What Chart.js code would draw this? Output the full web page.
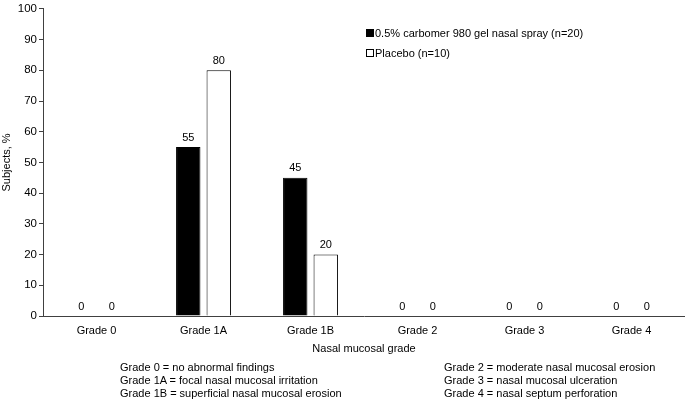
<!DOCTYPE html>
<html>
<head>
<meta charset="utf-8">
<script src="https://cdn.jsdelivr.net/npm/chart.js@4.4.0/dist/chart.umd.min.js"></script>
<style>
  html, body { margin: 0; padding: 0; background: #fff; }
  #wrap { position: relative; width: 685px; height: 402px; font-family: "Liberation Sans", Arial, sans-serif; font-size: 11px; color: #000; }
  #c { position: absolute; left: 0; top: 0; }
  .t { position: absolute; white-space: nowrap; line-height: 13px; }
  .sq { display: inline-block; width: 6px; height: 6px; border: 1px solid #000; margin-right: 1px; vertical-align: 0px; }
</style>
</head>
<body>
<div id="wrap">
  <canvas id="c" width="685" height="402"></canvas>
  <div class="t" style="left:264px; top:342px; width:200px; text-align:center;">Nasal mucosal grade</div>
  <div id="legend"></div>
  <div id="notes"></div>
</div>
<script>
const categories = ["Grade 0", "Grade 1A", "Grade 1B", "Grade 2", "Grade 3", "Grade 4"];
const seriesNames = ["0.5% carbomer 980 gel nasal spray (n=20)", "Placebo (n=10)"];
const carbomerValues = [0, 55, 45, 0, 0, 0];
const placeboValues = [0, 80, 20, 0, 0, 0];
const yTicks = [0, 10, 20, 30, 40, 50, 60, 70, 80, 90, 100];
const yTitle = "Subjects, %";
const notesLeft = ["Grade 0 = no abnormal findings", "Grade 1A = focal nasal mucosal irritation", "Grade 1B = superficial nasal mucosal erosion"];
const notesRight = ["Grade 2 = moderate nasal mucosal erosion", "Grade 3 = nasal mucosal ulceration", "Grade 4 = nasal septum perforation"];

const fills = ["#000000", "#ffffff"];
const FONT = '"Liberation Sans", Arial, sans-serif';

// legend (HTML text)
const lg = document.getElementById('legend');
seriesNames.forEach((n, i) => {
  const d = document.createElement('div');
  d.className = 't';
  d.style.left = '366px';
  d.style.top = (27 + i * 20) + 'px';
  d.innerHTML = '<span class="sq" style="background:' + fills[i] + '"></span>';
  d.appendChild(document.createTextNode(n));
  lg.appendChild(d);
});
// footnotes
const nt = document.getElementById('notes');
notesLeft.forEach((n, i) => {
  const d = document.createElement('div');
  d.className = 't';
  d.style.left = '120px';
  d.style.top = (361 + i * 13) + 'px';
  d.textContent = n;
  nt.appendChild(d);
});
notesRight.forEach((n, i) => {
  const d = document.createElement('div');
  d.className = 't';
  d.style.left = '444px';
  d.style.top = (361 + i * 13) + 'px';
  d.textContent = n;
  nt.appendChild(d);
});

const extras = {
  id: 'extras',
  afterDatasetsDraw(chart) {
    const ctx = chart.ctx;
    ctx.save();
    ctx.font = '11px ' + FONT;
    ctx.fillStyle = '#000';
    ctx.textAlign = 'center';
    ctx.textBaseline = 'bottom';
    chart.data.datasets.forEach((ds, di) => {
      const meta = chart.getDatasetMeta(di);
      meta.data.forEach((bar, i) => {
        ctx.fillText(String(ds.data[i]), bar.x, bar.y - 4);
      });
    });
    // y axis title
    const area = chart.chartArea;
    ctx.translate(7, (area.top + area.bottom) / 2);
    ctx.rotate(-Math.PI / 2);
    ctx.textBaseline = 'middle';
    ctx.fillText(yTitle, 0, 0);
    ctx.restore();
  }
};

new Chart(document.getElementById('c'), {
  type: 'bar',
  data: {
    labels: categories,
    datasets: [
      { label: seriesNames[0], data: carbomerValues, backgroundColor: fills[0], borderColor: '#000', borderWidth: 1 },
      { label: seriesNames[1], data: placeboValues, backgroundColor: fills[1], borderColor: '#000', borderWidth: 1 }
    ]
  },
  options: {
    responsive: false,
    animation: false,
    devicePixelRatio: 1,
    categoryPercentage: 0.57,
    barPercentage: 0.8,
    layout: { padding: { top: 7, right: 0, bottom: 0, left: 0 } },
    plugins: { legend: { display: false }, tooltip: { enabled: false } },
    scales: {
      x: {
        grid: { display: false, drawTicks: false },
        border: { display: true, color: '#404040', width: 1 },
        ticks: { color: '#000', font: { family: FONT, size: 11 }, padding: 8, maxRotation: 0 },
        afterFit(s) { s.height = 86; }
      },
      y: {
        min: 0, max: 100,
        afterBuildTicks(s) { s.ticks = yTicks.map(v => ({ value: v })); },
        grid: { drawOnChartArea: false, drawTicks: true, tickLength: 4, color: '#404040' },
        border: { display: true, color: '#404040', width: 1 },
        ticks: { color: '#000', font: { family: FONT, size: 11.5 }, padding: 2 },
        afterFit(s) { s.width = 43; }
      }
    }
  },
  plugins: [extras]
});
</script>
</body>
</html>
